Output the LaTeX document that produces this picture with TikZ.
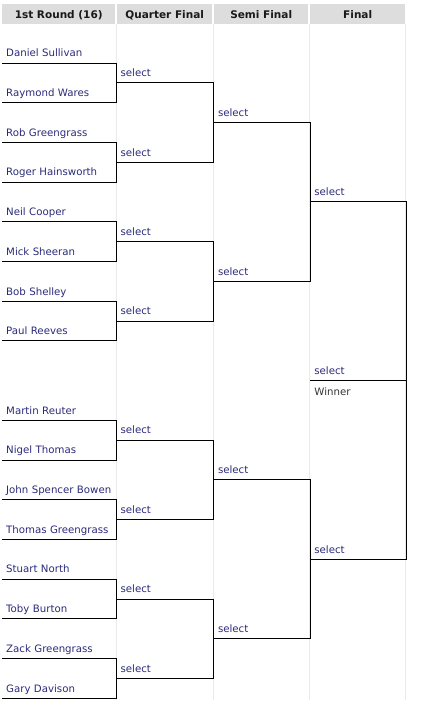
\documentclass[tikz,border=0pt]{standalone}
\usepackage{fontspec}
\setmainfont{DejaVu Sans}
\usetikzlibrary{positioning, calc}
\definecolor{namecol}{RGB}{42,42,122}
\definecolor{headgray}{RGB}{221,221,221}
\definecolor{sepgray}{RGB}{234,234,234}
\definecolor{wincol}{RGB}{51,51,51}

\begin{document}
\begin{tikzpicture}[x=1pt, y=-1pt,
    slot/.style={anchor=south west, inner xsep=4pt, inner ysep=3.5pt,
        text height=8pt, text depth=2.5pt, align=left,
        font=\fontsize{10.2}{12}\selectfont, text=namecol},
    player/.style={slot, text width=106pt},
    qpick/.style={slot, text width=89pt},
    pick/.style={slot, text width=88pt},
    head/.style={anchor=north west, fill=headgray, minimum height=20pt,
        text height=9.8pt, text depth=0.6pt, inner xsep=0pt,
        font=\fontsize{10.5}{12}\selectfont\bfseries, text=black!90},
    bracket/.style={line width=0.9pt, black},
    colsep/.style={sepgray, line width=0.8pt}]

    \useasboundingbox (0,0) rectangle (420,708);

    % header row
    \node[head, minimum width=113pt] (h1) at (2,4) {1st Round (16)};
    \node[head, minimum width=95pt] (h2) at (117,4) {Quarter Final};
    \node[head, minimum width=94pt] (h3) at (214,4) {Semi Final};
    \node[head, minimum width=95pt] (h4) at (310,4) {Final};

    % column separators
    \draw[colsep] (116,24) -- (116,700);
    \draw[colsep] (213,24) -- (213,700);
    \draw[colsep] (309,24) -- (309,700);
    \draw[colsep] (405,24) -- (405,700);

    % first round
    \node[player] (p1) at (2,63.0) {Daniel Sullivan};
    \node[player] (p2) at (2,102.7) {Raymond Wares};
    \node[player] (p3) at (2,142.4) {Rob Greengrass};
    \node[player] (p4) at (2,182.1) {Roger Hainsworth};
    \node[player] (p5) at (2,221.8) {Neil Cooper};
    \node[player] (p6) at (2,261.5) {Mick Sheeran};
    \node[player] (p7) at (2,301.2) {Bob Shelley};
    \node[player] (p8) at (2,340.9) {Paul Reeves};
    \node[player] (p9) at (2,420.3) {Martin Reuter};
    \node[player] (p10) at (2,460.0) {Nigel Thomas};
    \node[player] (p11) at (2,499.7) {John Spencer Bowen};
    \node[player] (p12) at (2,539.4) {Thomas Greengrass};
    \node[player] (p13) at (2,579.1) {Stuart North};
    \node[player] (p14) at (2,618.8) {Toby Burton};
    \node[player] (p15) at (2,658.5) {Zack Greengrass};
    \node[player] (p16) at (2,698.2) {Gary Davison};

    % quarter finals
    \node[qpick] (q1) at ($(p1.south east)!.5!(p2.south east)$) {select};
    \node[qpick] (q2) at ($(p3.south east)!.5!(p4.south east)$) {select};
    \node[qpick] (q3) at ($(p5.south east)!.5!(p6.south east)$) {select};
    \node[qpick] (q4) at ($(p7.south east)!.5!(p8.south east)$) {select};
    \node[qpick] (q5) at ($(p9.south east)!.5!(p10.south east)$) {select};
    \node[qpick] (q6) at ($(p11.south east)!.5!(p12.south east)$) {select};
    \node[qpick] (q7) at ($(p13.south east)!.5!(p14.south east)$) {select};
    \node[qpick] (q8) at ($(p15.south east)!.5!(p16.south east)$) {select};

    % semi finals
    \node[pick] (s1) at ($(q1.south east)!.5!(q2.south east)$) {select};
    \node[pick] (s2) at ($(q3.south east)!.5!(q4.south east)$) {select};
    \node[pick] (s3) at ($(q5.south east)!.5!(q6.south east)$) {select};
    \node[pick] (s4) at ($(q7.south east)!.5!(q8.south east)$) {select};

    % final and winner
    \node[pick] (f1) at ($(s1.south east)!.5!(s2.south east)$) {select};
    \node[pick] (f2) at ($(s3.south east)!.5!(s4.south east)$) {select};
    \node[pick] (w) at ($(f1.south west)!.5!(f2.south west)$) {select};
    \node[pick, anchor=north west, inner ysep=6.5pt, text=wincol] (wn)
        at (w.south west) {Winner};

    % brackets
    \draw[bracket] (p1.south west) -- (p1.south east) -- (p2.south east) -- (p2.south west);
    \draw[bracket] (p3.south west) -- (p3.south east) -- (p4.south east) -- (p4.south west);
    \draw[bracket] (p5.south west) -- (p5.south east) -- (p6.south east) -- (p6.south west);
    \draw[bracket] (p7.south west) -- (p7.south east) -- (p8.south east) -- (p8.south west);
    \draw[bracket] (p9.south west) -- (p9.south east) -- (p10.south east) -- (p10.south west);
    \draw[bracket] (p11.south west) -- (p11.south east) -- (p12.south east) -- (p12.south west);
    \draw[bracket] (p13.south west) -- (p13.south east) -- (p14.south east) -- (p14.south west);
    \draw[bracket] (p15.south west) -- (p15.south east) -- (p16.south east) -- (p16.south west);

    \draw[bracket] (q1.south west) -- (q1.south east) -- (q2.south east) -- (q2.south west);
    \draw[bracket] (q3.south west) -- (q3.south east) -- (q4.south east) -- (q4.south west);
    \draw[bracket] (q5.south west) -- (q5.south east) -- (q6.south east) -- (q6.south west);
    \draw[bracket] (q7.south west) -- (q7.south east) -- (q8.south east) -- (q8.south west);

    \draw[bracket] (s1.south west) -- (s1.south east) -- (s2.south east) -- (s2.south west);
    \draw[bracket] (s3.south west) -- (s3.south east) -- (s4.south east) -- (s4.south west);

    \draw[bracket] (f1.south west) -- (f1.south east) -- (f2.south east) -- (f2.south west);
    \draw[bracket] (w.south west) -- (w.south east);

\end{tikzpicture}
\end{document}
